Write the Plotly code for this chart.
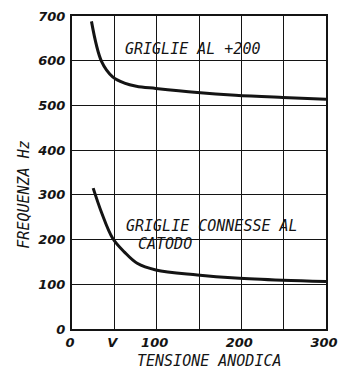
import plotly.graph_objects as go

# Anode voltage (V) vs frequency (Hz)
grids_200_v = [23, 35, 48, 62, 76, 99, 148, 193, 249, 300]
grids_200_f = [688, 598, 564, 550, 543, 538, 529, 523, 518, 514]

grids_cathode_v = [25, 35, 48, 62, 77, 99, 148, 193, 249, 300]
grids_cathode_f = [315, 260, 203, 172, 147, 132, 121, 114, 109, 106]

x_tickvals = [0, 50, 100, 150, 200, 250, 300]
x_ticktext = ["0", "V", "100", "", "200", "", "300"]
y_tickvals = [0, 100, 200, 300, 400, 500, 600, 700]

ink = "#141414"
tick_font = dict(family="DejaVu Sans", size=13, color=ink, style="italic", weight="bold")
label_font = dict(family="DejaVu Sans Mono", size=15, color=ink, style="italic")

fig = go.Figure()
for xs, ys in [(grids_200_v, grids_200_f), (grids_cathode_v, grids_cathode_f)]:
    fig.add_trace(go.Scatter(x=xs, y=ys, mode="lines",
                             line=dict(color=ink, width=3, shape="spline", smoothing=1.0),
                             hoverinfo="skip", showlegend=False))

fig.add_annotation(x=142, y=627, text="GRIGLIE AL +200", showarrow=False,
                   font=label_font, xanchor="center", yanchor="middle")
fig.add_annotation(x=61, y=230, text="GRIGLIE CONNESSE AL", showarrow=False,
                   font=label_font, xanchor="left", yanchor="middle")
fig.add_annotation(x=76, y=191, text="CATODO", showarrow=False,
                   font=label_font, xanchor="left", yanchor="middle")
fig.add_annotation(x=0.54, y=-0.102, xref="paper", yref="paper", text="TENSIONE ANODICA",
                   showarrow=False, font=label_font, xanchor="center", yanchor="middle")
fig.add_annotation(x=-0.188, y=0.43, xref="paper", yref="paper", text="FREQUENZA Hz",
                   showarrow=False, font=label_font, textangle=-90,
                   xanchor="center", yanchor="middle")

fig.update_xaxes(range=[0, 300], tickvals=x_tickvals, ticktext=x_ticktext,
                 showgrid=True, gridcolor=ink, gridwidth=1,
                 showline=True, linecolor=ink, linewidth=2, mirror=True,
                 ticks="", tickfont=tick_font, zeroline=False,
                 ticklabeloverflow="allow", ticklabelshift=-2, ticklabelstandoff=0)
fig.update_yaxes(range=[0, 700], tickvals=y_tickvals,
                 showgrid=True, gridcolor=ink, gridwidth=1,
                 showline=True, linecolor=ink, linewidth=2, mirror=True,
                 ticks="", tickfont=tick_font, zeroline=False, ticklabelstandoff=2)

fig.update_layout(width=347, height=369,
                  margin=dict(l=72, r=9, t=14, b=40),
                  paper_bgcolor="white", plot_bgcolor="white")

fig.write_html("out.html")
